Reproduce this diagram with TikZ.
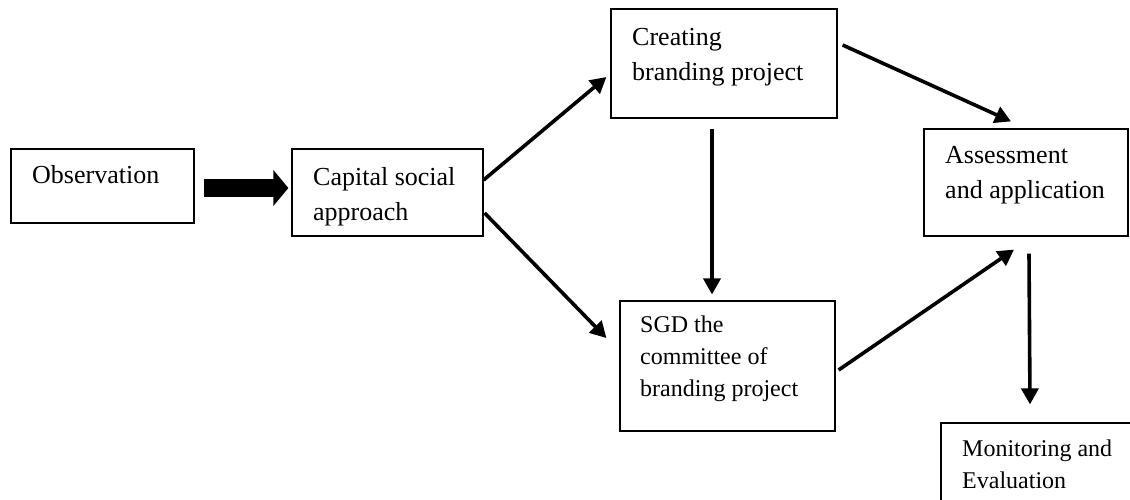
\documentclass[tikz,border=0pt]{standalone}
\usepackage{fontspec}
\setmainfont{Liberation Serif}
\usetikzlibrary{arrows.meta,calc}
\tikzset{
  box/.style={draw=black, line width=1.2pt, inner sep=0pt, rectangle},
  lbl/.style={anchor=base west, inner sep=0pt, align=left, font=\fontsize{26}{35}\selectfont},
  lblsm/.style={anchor=base west, inner sep=0pt, align=left, font=\fontsize{24}{32}\selectfont},
  conn/.style={line width=3.6pt, -{Triangle[length=16pt,width=17pt]}},
}
\begin{document}
\begin{tikzpicture}[x=1pt,y=-1pt]
\useasboundingbox (0,0) rectangle (1130,499);
\clip (0,0) rectangle (1130,499);
% boxes
\node[box, minimum width=183pt, minimum height=74pt] (obs) at (102.5,186) {};
\node[box, minimum width=191pt, minimum height=87pt] (cap) at (387.5,192.5) {};
\node[box, minimum width=226pt, minimum height=109pt] (cre) at (724,63.5) {};
\node[box, minimum width=215pt, minimum height=130pt] (sgd) at (727.5,366) {};
\node[box, minimum width=204pt, minimum height=107pt] (ass) at (1026,182.5) {};
\node[box, minimum width=209pt, minimum height=117pt] (mon) at (1045.5,481.5) {};
% texts (anchored at the baseline of the last line)
\node[lbl] (tobs) at (32,183) {Observation};
\node[lbl] (tcap) at (313,220) {Capital social\\approach};
\node[lbl] (tcre) at (632,80) {Creating\\branding project};
\node[lblsm] (tsgd) at (640,396) {SGD the\\committee of\\branding project};
\node[lbl] (tass) at (945,198) {Assessment\\and application};
\node[lblsm] (tmon) at (962,488) {Monitoring and\\Evaluation};
% thick arrow
\draw[line width=18pt, -{Triangle[length=15pt,width=35pt]}]
  ($(obs.east)+(9,2)$) -- ($(cap.west)+(-3,-4.5)$);
% connectors
\draw[conn] ($(cap.east)+(0,-12.5)$) -- ($(cre.west)+(-4,13.5)$);
\draw[conn] ($(cap.east)+(1,20.5)$) -- ($(sgd.west)+(-13,-28)$);
\draw[conn] ($(cre.south)+(-12,10)$) -- ($(sgd.north)+(-15.5,-6)$);
\draw[conn] ($(cre.east)+(5,-18.5)$) -- ($(ass.north)+(-15,-7)$);
\draw[conn] ($(sgd.east)+(3,4)$) -- ($(ass.south)+(-12,13)$);
\draw[conn] ($(ass.south)+(3,17)$) -- ($(mon.north)+(-15.5,-18)$);
\end{tikzpicture}
\end{document}
